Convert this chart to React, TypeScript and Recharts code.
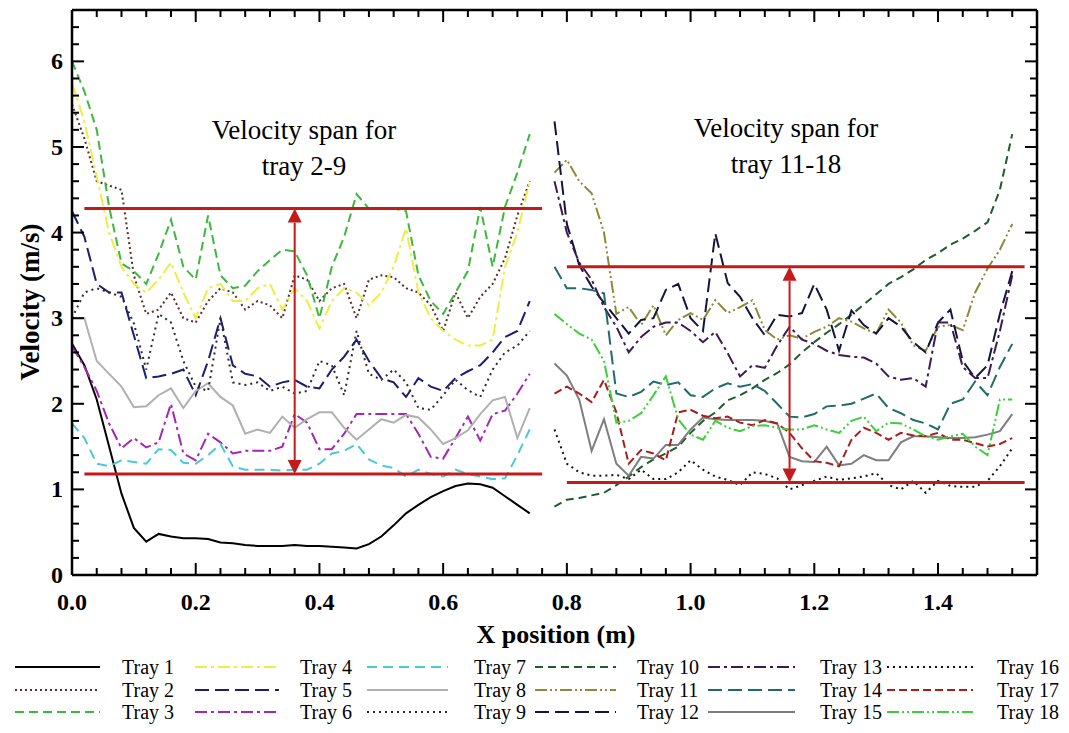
import { Line, LineChart, ReferenceLine, XAxis, YAxis } from "recharts"

const SERIF = "'Liberation Serif', 'Times New Roman', serif"
const RED = "#c41a1a"

// x positions (m) of the read-off points, tray 1-9 and tray 10-18
const xLeft = [
  0, 0.02, 0.04, 0.06, 0.08, 0.1, 0.12, 0.14, 0.16, 0.18,
  0.2, 0.22, 0.24, 0.26, 0.28, 0.3, 0.32, 0.34, 0.36, 0.38,
  0.4, 0.42, 0.44, 0.46, 0.48, 0.5, 0.52, 0.54, 0.56, 0.58,
  0.6, 0.62, 0.64, 0.66, 0.68, 0.7, 0.72, 0.74,
]
const xRight = [
  0.78, 0.8, 0.82, 0.84, 0.86, 0.88, 0.9, 0.92, 0.94, 0.96,
  0.98, 1.0, 1.02, 1.04, 1.06, 1.08, 1.1, 1.12, 1.14, 1.16,
  1.18, 1.2, 1.22, 1.24, 1.26, 1.28, 1.3, 1.32, 1.34, 1.36,
  1.38, 1.4, 1.42, 1.44, 1.46, 1.48, 1.5, 1.52,
]

// velocities (m/s)
const tray1 = [
  2.7, 2.45, 2.05, 1.5, 0.95, 0.55, 0.39, 0.48, 0.45, 0.43,
  0.43, 0.42, 0.38, 0.37, 0.35, 0.34, 0.34, 0.34, 0.35, 0.34,
  0.34, 0.33, 0.32, 0.31, 0.36, 0.45, 0.58, 0.72, 0.82, 0.91,
  0.98, 1.04, 1.07, 1.06, 1.02, 0.92, 0.82, 0.72,
]
const tray2 = [
  5.5, 5.1, 4.6, 4.55, 4.5, 3.5, 3.05, 3.1, 3.3, 3.0,
  2.95, 3.2, 3.35, 3.3, 3.1, 3.2, 3.15, 3.0, 3.5, 3.45,
  3.2, 3.35, 3.4, 3.0, 3.45, 3.5, 3.48, 3.35, 3.3, 3.15,
  2.85, 3.3, 3.0, 3.25, 3.4, 3.7, 4.2, 4.6,
]
const tray3 = [
  6.0, 5.65, 5.2, 4.3, 3.64, 3.55, 3.4, 3.75, 4.15, 3.6,
  3.45, 4.2, 3.5, 3.35, 3.38, 3.55, 3.68, 3.8, 3.78, 3.5,
  3.0, 3.6, 3.95, 4.45, 4.28, 4.28, 4.28, 4.25, 3.5, 3.2,
  3.05, 3.3, 3.55, 4.3, 3.6, 4.3, 4.7, 5.15,
]
const tray4 = [
  5.75, 5.3, 4.65, 4.0, 3.6, 3.4, 3.3, 3.45, 3.65, 3.3,
  3.0, 3.35, 3.4, 3.2, 3.2, 3.35, 3.4, 3.1, 3.35, 3.2,
  2.88, 3.2, 3.35, 3.3, 3.15, 3.3, 3.6, 4.05, 3.3, 3.0,
  2.85, 2.75, 2.68, 2.68, 2.75, 3.6, 4.0, 4.6,
]
const tray5 = [
  4.25, 3.95, 3.4, 3.3, 3.3, 2.8, 2.3, 2.32, 2.35, 2.4,
  2.1, 2.5, 3.0, 2.45, 2.35, 2.32, 2.2, 2.25, 2.28, 2.2,
  2.18, 2.4, 2.55, 2.75, 2.5, 2.3, 2.25, 2.08, 2.3, 2.2,
  2.15, 2.3, 2.38, 2.45, 2.6, 2.78, 2.85, 3.2,
]
const tray6 = [
  2.67, 2.43, 2.15, 1.77, 1.48, 1.6, 1.49, 1.55, 2.0, 1.42,
  1.34, 1.65, 1.55, 1.42, 1.45, 1.45, 1.45, 1.5, 1.88, 1.78,
  1.47, 1.47, 1.65, 1.88, 1.88, 1.88, 1.88, 1.88, 1.65, 1.38,
  1.36, 1.6, 1.85, 1.57, 1.88, 1.92, 2.12, 2.35,
]
const tray7 = [
  1.77, 1.6, 1.3, 1.27, 1.34, 1.32, 1.3, 1.47, 1.46, 1.31,
  1.3, 1.4, 1.53, 1.27, 1.23, 1.23, 1.23, 1.22, 1.23, 1.23,
  1.3, 1.42, 1.45, 1.53, 1.35, 1.28, 1.25, 1.15, 1.23, 1.18,
  1.15, 1.23, 1.18, 1.15, 1.12, 1.13, 1.4, 1.7,
]
const tray8 = [
  3.0, 3.0, 2.5, 2.35, 2.2, 1.96, 1.97, 2.1, 2.18, 1.95,
  2.15, 2.24, 2.08, 1.98, 1.65, 1.7, 1.66, 1.85, 1.72, 1.82,
  1.9, 1.9, 1.72, 1.58, 1.7, 1.82, 1.78, 1.87, 1.84, 1.7,
  1.53, 1.6, 1.69, 1.88, 2.04, 2.08, 1.6, 1.95,
]
const tray9 = [
  3.0, 3.3, 3.35, 3.3, 3.25, 2.94, 2.4, 3.05, 2.95, 2.5,
  2.2, 2.15, 3.0, 2.25, 2.22, 2.25, 2.15, 2.2, 2.12, 2.15,
  2.5, 2.45, 2.1, 2.85, 2.35, 2.28, 2.4, 2.25, 1.95, 1.93,
  2.1, 2.28, 2.16, 2.08, 2.4, 2.6, 2.68, 2.85,
]
const tray10 = [
  0.8, 0.88, 0.9, 0.93, 0.96, 1.05, 1.15, 1.26, 1.35, 1.42,
  1.5, 1.66, 1.8, 1.9, 2.04, 2.1, 2.18, 2.28, 2.36, 2.46,
  2.6, 2.72, 2.83, 2.93, 3.04, 3.16, 3.28, 3.4, 3.48, 3.57,
  3.68, 3.76, 3.86, 3.93, 4.02, 4.12, 4.5, 5.15,
]
const tray11 = [
  4.7, 4.85, 4.6, 4.46, 4.0, 3.05, 3.13, 2.92, 3.15, 2.8,
  2.98, 3.06, 2.98, 3.21, 3.06, 3.13, 3.21, 2.86, 2.75, 2.8,
  2.76, 2.84, 2.9, 3.0, 2.96, 2.88, 2.82, 3.1, 2.95, 2.68,
  2.62, 2.9, 2.92, 2.86, 3.3, 3.58, 3.8, 4.1,
]
const tray12 = [
  5.3, 4.1, 3.62, 3.37, 3.18, 3.0, 2.82, 2.98, 3.0, 3.33,
  3.4, 3.0, 2.85, 3.99, 3.41, 3.25, 3.0, 2.8, 3.04, 3.02,
  3.06, 3.4, 3.1, 2.62, 3.09, 2.92, 2.82, 3.0, 2.9, 2.72,
  2.6, 2.95, 3.1, 2.5, 2.3, 2.45, 3.05, 3.55,
]
const tray13 = [
  4.6, 4.0, 3.65, 3.45, 3.13, 2.9, 2.6, 2.78, 2.9, 2.95,
  2.95, 2.85, 2.72, 2.84, 2.59, 2.32, 2.45, 2.42, 2.68, 2.9,
  2.75, 2.7, 2.62, 2.57, 2.55, 2.54, 2.47, 2.32, 2.28, 2.3,
  2.2, 2.95, 2.95, 2.43, 2.3, 2.3, 2.85, 3.5,
]
const tray14 = [
  3.6, 3.35, 3.35, 3.33, 3.29, 2.12, 2.08, 2.14, 2.26, 2.22,
  2.25, 2.1, 2.08, 2.18, 2.24, 2.2, 2.23, 2.15, 2.0, 1.85,
  1.84, 1.88, 1.97, 1.98, 2.0, 2.06, 2.12, 1.95, 1.89, 1.81,
  1.77, 1.7, 2.0, 2.05, 2.26, 2.1, 2.43, 2.7,
]
const tray15 = [
  2.47, 2.33, 2.05, 1.45, 1.82, 1.3, 1.16, 1.38, 1.36, 1.52,
  1.52, 1.7, 1.84, 1.82, 1.81, 1.81, 1.81, 1.8, 1.77, 1.38,
  1.33, 1.32, 1.5, 1.28, 1.3, 1.4, 1.34, 1.34, 1.55, 1.62,
  1.62, 1.61, 1.6, 1.6, 1.61, 1.64, 1.68, 1.88,
]
const tray16 = [
  1.7, 1.3, 1.2, 1.16, 1.16, 1.17, 1.12, 1.23, 1.12, 1.12,
  1.2, 1.34, 1.23, 1.15, 1.11, 1.05, 1.2, 1.18, 1.13, 1.0,
  1.05, 1.1, 1.15, 1.11, 1.13, 1.15, 1.19, 1.05, 1.0, 1.1,
  0.96, 1.1, 1.04, 1.03, 1.03, 1.1, 1.27, 1.48,
]
const tray17 = [
  2.12, 2.2, 2.12, 2.02, 2.28, 1.9, 1.3, 1.46, 1.42, 1.34,
  1.9, 1.93, 1.86, 1.83, 1.85, 1.78, 1.75, 1.81, 1.77, 1.66,
  1.48, 1.33, 1.31, 1.27, 1.58, 1.72, 1.66, 1.58, 1.66, 1.63,
  1.62, 1.66, 1.58, 1.58, 1.54, 1.5, 1.53, 1.6,
]
const tray18 = [
  3.05, 2.93, 2.82, 2.75, 2.5, 1.78, 1.8, 1.89, 2.1, 2.32,
  1.82, 1.64, 1.58, 1.8, 1.72, 1.68, 1.74, 1.75, 1.72, 1.7,
  1.7, 1.75, 1.7, 1.66, 1.8, 1.85, 1.68, 1.78, 1.77, 1.7,
  1.62, 1.58, 1.62, 1.65, 1.5, 1.4, 2.05, 2.05,
]

const X_MAX = 1.56
const Y_MAX = 6.6
const xMajorTicks = [0, 0.2, 0.4, 0.6, 0.8, 1.0, 1.2, 1.4]
const xTickLabels = ["0.0", "0.2", "0.4", "0.6", "0.8", "1.0", "1.2", "1.4"]
const yMajorTicks = [0, 1, 2, 3, 4, 5, 6]
const yTickLabels = ["0", "1", "2", "3", "4", "5", "6"]
const xMinorTicks = Array.from({ length: 40 }, (_, i) => Math.round(i * 4) / 100)
const yMinorTicks = Array.from({ length: 34 }, (_, i) => Math.round(i * 2) / 10)

// velocity span markers
const spanLeft = { from: 0.02, to: 0.76, high: 4.28, low: 1.18, arrowX: 0.36 }
const spanRight = { from: 0.8, to: 1.54, high: 3.6, low: 1.08, arrowX: 1.16 }

type Tray = {
  key: string
  name: string
  group: "left" | "right"
  values: number[]
  color: string
  dash?: string
}

const trays: Tray[] = [
  { key: "t1", name: "Tray 1", group: "left", values: tray1, color: "#000000" },
  { key: "t2", name: "Tray 2", group: "left", values: tray2, color: "#5a2e2e", dash: "2 3" },
  { key: "t3", name: "Tray 3", group: "left", values: tray3, color: "#3cb83c", dash: "9 5" },
  { key: "t4", name: "Tray 4", group: "left", values: tray4, color: "#eded45", dash: "12 4 3 4" },
  { key: "t5", name: "Tray 5", group: "left", values: tray5, color: "#1c1c70", dash: "14 6" },
  { key: "t6", name: "Tray 6", group: "left", values: tray6, color: "#a326b5", dash: "12 4 3 4" },
  { key: "t7", name: "Tray 7", group: "left", values: tray7, color: "#4cc9d4", dash: "10 6" },
  { key: "t8", name: "Tray 8", group: "left", values: tray8, color: "#b0b0b0" },
  { key: "t9", name: "Tray 9", group: "left", values: tray9, color: "#2a2a2a", dash: "2 4" },
  { key: "t10", name: "Tray 10", group: "right", values: tray10, color: "#1f5c2e", dash: "8 5" },
  { key: "t11", name: "Tray 11", group: "right", values: tray11, color: "#8b8a3a", dash: "12 3 2 3 2 3" },
  { key: "t12", name: "Tray 12", group: "right", values: tray12, color: "#14143c", dash: "14 6" },
  { key: "t13", name: "Tray 13", group: "right", values: tray13, color: "#3c1a52", dash: "12 4 3 4" },
  { key: "t14", name: "Tray 14", group: "right", values: tray14, color: "#216b6b", dash: "14 6" },
  { key: "t15", name: "Tray 15", group: "right", values: tray15, color: "#7e7e7e" },
  { key: "t16", name: "Tray 16", group: "right", values: tray16, color: "#111111", dash: "2 4" },
  { key: "t17", name: "Tray 17", group: "right", values: tray17, color: "#a81c1c", dash: "8 4" },
  { key: "t18", name: "Tray 18", group: "right", values: tray18, color: "#3ccf3c", dash: "12 3 2 3 2 3" },
]

function buildRows(xs: number[], group: "left" | "right") {
  return xs.map((x, i) => {
    const row: Record<string, number> = { x }
    trays.filter((t) => t.group === group).forEach((t) => {
      row[t.key] = t.values[i]
    })
    return row
  })
}

const leftRows = buildRows(xLeft, "left")
const rightRows = buildRows(xRight, "right")

const tickFont = { fontFamily: SERIF, fontWeight: 700, fontSize: 24, fill: "#000" }

function majorIndex(list: number[], v: number) {
  return list.findIndex((t) => Math.abs(t - v) < 1e-6)
}

function XLabel({ x, y, payload }: any) {
  const i = majorIndex(xMajorTicks, payload.value)
  if (i < 0) return <g />
  return (
    <text x={x} y={y + 35} textAnchor="middle" style={tickFont}>
      {xTickLabels[i]}
    </text>
  )
}

function YLabel({ x, y, payload }: any) {
  const i = majorIndex(yMajorTicks, payload.value)
  if (i < 0) return <g />
  return (
    <text x={x - 9} y={y + 8} textAnchor="end" style={tickFont}>
      {yTickLabels[i]}
    </text>
  )
}

// inward tick marks on all four sides, lengths in data units (12px / 7px)
const X_TICK_MAJOR = 12 / 85.6
const X_TICK_MINOR = 7 / 85.6
const Y_TICK_MAJOR = 12 / 617
const Y_TICK_MINOR = 7 / 617

function tickMarks() {
  const marks: any[] = []
  xMinorTicks.forEach((v) => {
    const len = majorIndex(xMajorTicks, v) >= 0 ? X_TICK_MAJOR : X_TICK_MINOR
    marks.push(
      <ReferenceLine key={`xb${v}`} ifOverflow="visible" segment={[{ x: v, y: 0 }, { x: v, y: len }]} stroke="#000" strokeWidth={2} />,
      <ReferenceLine key={`xt${v}`} ifOverflow="visible" segment={[{ x: v, y: Y_MAX }, { x: v, y: Y_MAX - len }]} stroke="#000" strokeWidth={2} />,
    )
  })
  yMinorTicks.forEach((v) => {
    const len = majorIndex(yMajorTicks, v) >= 0 ? Y_TICK_MAJOR : Y_TICK_MINOR
    marks.push(
      <ReferenceLine key={`yl${v}`} ifOverflow="visible" segment={[{ x: 0, y: v }, { x: len, y: v }]} stroke="#000" strokeWidth={2} />,
      <ReferenceLine key={`yr${v}`} ifOverflow="visible" segment={[{ x: X_MAX, y: v }, { x: X_MAX - len, y: v }]} stroke="#000" strokeWidth={2} />,
    )
  })
  return marks
}

function SpanArrow(props: any) {
  const { x1, y1, y2 } = props
  const top = Math.min(y1, y2)
  const bottom = Math.max(y1, y2)
  const head = 14
  const half = 7
  return (
    <g>
      <line x1={x1} y1={top + head} x2={x1} y2={bottom - head} stroke={RED} strokeWidth={2} />
      <polygon points={`${x1},${top} ${x1 - half},${top + head} ${x1 + half},${top + head}`} fill={RED} />
      <polygon points={`${x1},${bottom} ${x1 - half},${bottom - head} ${x1 + half},${bottom - head}`} fill={RED} />
    </g>
  )
}

function spanLines(s: typeof spanLeft, id: string) {
  return [
    <ReferenceLine key={`${id}hi`} segment={[{ x: s.from, y: s.high }, { x: s.to, y: s.high }]} stroke={RED} strokeWidth={3} />,
    <ReferenceLine key={`${id}lo`} segment={[{ x: s.from, y: s.low }, { x: s.to, y: s.low }]} stroke={RED} strokeWidth={3} />,
    <ReferenceLine
      key={`${id}ar`}
      segment={[{ x: s.arrowX, y: s.high }, { x: s.arrowX, y: s.low }]}
      shape={(p: any) => <SpanArrow {...p} />}
    />,
  ]
}

// legend columns (page px): sample start/end and label start, rows by centre y
const legendCols = [
  { from: 15, to: 100, label: 122 },
  { from: 195, to: 279, label: 300 },
  { from: 367, to: 448, label: 474 },
  { from: 535, to: 616, label: 637 },
  { from: 708, to: 795, label: 820 },
  { from: 887, to: 973, label: 997 },
]
const legendRows = [667, 690, 712]

function centered(left: number, top: number, extra: React.CSSProperties = {}): React.CSSProperties {
  return {
    position: "absolute",
    left: left - 8,
    top: top - 8,
    transform: "translate(-50%, -50%)",
    whiteSpace: "nowrap",
    fontFamily: SERIF,
    color: "#000",
    ...extra,
  }
}

export default function App() {
  return (
    <div style={{ position: "relative", width: 1053, height: 717 }}>
      <LineChart width={1053} height={640} margin={{ top: 2, right: 24, bottom: 0, left: 0 }}>
        <XAxis
          dataKey="x"
          type="number"
          domain={[0, X_MAX]}
          allowDataOverflow
          ticks={xMinorTicks}
          interval={0}
          tickSize={0}
          tickMargin={0}
          tickLine={false}
          axisLine={{ stroke: "#000", strokeWidth: 2.5 }}
          height={73}
          tick={(p: any) => <XLabel {...p} />}
        />
        <YAxis
          type="number"
          domain={[0, Y_MAX]}
          allowDataOverflow
          ticks={yMinorTicks}
          interval={0}
          tickSize={0}
          tickMargin={0}
          tickLine={false}
          axisLine={{ stroke: "#000", strokeWidth: 2.5 }}
          width={64}
          tick={(p: any) => <YLabel {...p} />}
        />

        {trays.map((t) => (
          <Line
            key={t.key}
            data={t.group === "left" ? leftRows : rightRows}
            dataKey={t.key}
            name={t.name}
            type="linear"
            stroke={t.color}
            strokeWidth={2}
            strokeDasharray={t.dash}
            dot={false}
            activeDot={false}
            isAnimationActive={false}
          />
        ))}

        <ReferenceLine y={Y_MAX} ifOverflow="visible" stroke="#000" strokeWidth={2.5} />
        <ReferenceLine x={X_MAX} ifOverflow="visible" stroke="#000" strokeWidth={2.5} />
        {tickMarks()}

        {spanLines(spanLeft, "l")}
        {spanLines(spanRight, "r")}
      </LineChart>

      <div style={centered(30, 302, { fontSize: 27, fontWeight: 700, transform: "translate(-50%, -50%) rotate(-90deg)" })}>
        Velocity (m/s)
      </div>
      <div style={centered(556, 635, { fontSize: 26, fontWeight: 700 })}>X position (m)</div>

      <div style={centered(304, 130, { fontSize: 27 })}>Velocity span for</div>
      <div style={centered(304, 166, { fontSize: 27 })}>tray 2-9</div>
      <div style={centered(786, 128, { fontSize: 27 })}>Velocity span for</div>
      <div style={centered(786, 164, { fontSize: 27 })}>tray 11-18</div>

      {trays.map((t, idx) => {
        const col = legendCols[Math.floor(idx / 3)]
        const cy = legendRows[idx % 3]
        return (
          <div key={t.key}>
            <svg
              width={col.to - col.from}
              height={10}
              style={{ position: "absolute", left: col.from - 8, top: cy - 8 - 5 }}
            >
              <line
                x1={0}
                y1={5}
                x2={col.to - col.from}
                y2={5}
                stroke={t.color}
                strokeWidth={2}
                strokeDasharray={t.dash}
              />
            </svg>
            <div
              style={{
                position: "absolute",
                left: col.label - 8,
                top: cy - 8 - 12,
                height: 24,
                lineHeight: "24px",
                fontFamily: SERIF,
                fontSize: 20,
                color: "#000",
                whiteSpace: "nowrap",
              }}
            >
              {t.name}
            </div>
          </div>
        )
      })}
    </div>
  )
}
